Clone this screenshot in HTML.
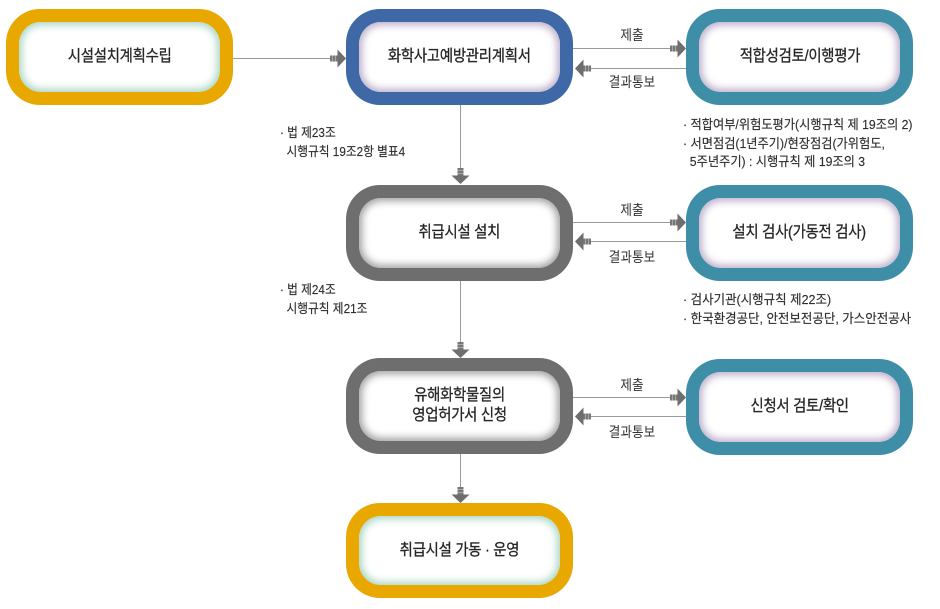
<!DOCTYPE html>
<html><head><meta charset="utf-8">
<style>
html,body{margin:0;padding:0;background:#fff;}
body{width:940px;height:609px;position:relative;overflow:hidden;font-family:"Liberation Sans","Noto Sans CJK KR",sans-serif;color:#333;}
.node{position:absolute;border-radius:34px;}
.node .in{position:absolute;left:13px;top:13px;right:13px;bottom:13px;background:#fff;border-radius:22px;display:flex;align-items:center;justify-content:center;text-align:center;}
.node .t{display:inline-block;font-size:16px;line-height:20px;transform:scaleX(0.9);white-space:nowrap;color:#262626;letter-spacing:-0.3px;-webkit-text-stroke:0.3px #262626;}
.y{background:#E8A800;}
.y .in{box-shadow:inset 0 0 8px 3px #a9d6c4;}
.b{background:#3E69A6;}
.b .in{box-shadow:inset 0 0 8px 3px #bcaecb;}
.g{background:#6E6E6E;}
.g .in{box-shadow:inset 0 0 8px 3px #a0a0a0;}
.c{background:#3F8EA7;}
.c .in{box-shadow:inset 0 0 8px 3px #bcaecb;}
.note{position:absolute;font-size:13px;line-height:18.5px;white-space:nowrap;transform-origin:0 0;color:#2e2e2e;-webkit-text-stroke:0.15px #2e2e2e;}
.lab{position:absolute;width:80px;text-align:center;font-size:14px;line-height:16px;white-space:nowrap;color:#333;transform:scaleX(0.9);}
svg{position:absolute;left:0;top:0;}
</style></head><body>
<svg width="940" height="609" viewBox="0 0 940 609">
<defs>
<g id="ah">
<rect x="-16" y="-3" width="8" height="6" fill="#777"/>
<line x1="-13.5" y1="-3" x2="-13.5" y2="3" stroke="#bbb" stroke-width="0.7"/>
<line x1="-10.5" y1="-3" x2="-10.5" y2="3" stroke="#bbb" stroke-width="0.7"/>
<polygon points="-8.5,-9 0,0 -8.5,9" fill="#6e6e6e"/>
</g>
</defs>
<g stroke="#9a9a9a" stroke-width="1" fill="none">
<line x1="233" y1="58.5" x2="331" y2="58.5"/>
<line x1="460.5" y1="105" x2="460.5" y2="168"/>
<line x1="460.5" y1="280" x2="460.5" y2="342"/>
<line x1="460.5" y1="454" x2="460.5" y2="487"/>
<line x1="573" y1="48.5" x2="671" y2="48.5"/>
<line x1="589" y1="68.5" x2="686" y2="68.5"/>
<line x1="573" y1="222.5" x2="671" y2="222.5"/>
<line x1="589" y1="241.5" x2="686" y2="241.5"/>
<line x1="573" y1="397.5" x2="671" y2="397.5"/>
<line x1="589" y1="416.5" x2="686" y2="416.5"/>
</g>
<use href="#ah" transform="translate(346,58.5)"/>
<use href="#ah" transform="translate(460.5,184) rotate(90)"/>
<use href="#ah" transform="translate(460.5,358) rotate(90)"/>
<use href="#ah" transform="translate(460.5,503) rotate(90)"/>
<use href="#ah" transform="translate(686,48.5)"/>
<use href="#ah" transform="translate(575,68.5) rotate(180)"/>
<use href="#ah" transform="translate(686,222.5)"/>
<use href="#ah" transform="translate(575,241.5) rotate(180)"/>
<use href="#ah" transform="translate(686,397.5)"/>
<use href="#ah" transform="translate(575,416.5) rotate(180)"/>
</svg>

<div class="node y" style="left:6px;top:9px;width:227px;height:96px;"><div class="in"><span class="t">시설설치계획수립</span></div></div>
<div class="node b" style="left:346px;top:9px;width:227px;height:96px;"><div class="in"><span class="t">화학사고예방관리계획서</span></div></div>
<div class="node c" style="left:686px;top:9px;width:227px;height:96px;"><div class="in"><span class="t">적합성검토/이행평가</span></div></div>

<div class="node g" style="left:346px;top:185px;width:227px;height:96px;"><div class="in"><span class="t">취급시설 설치</span></div></div>
<div class="node c" style="left:686px;top:185px;width:227px;height:96px;"><div class="in"><span class="t">설치 검사(가동전 검사)</span></div></div>

<div class="node g" style="left:346px;top:358px;width:227px;height:96px;"><div class="in"><span class="t">유해화학물질의<br>영업허가서 신청</span></div></div>
<div class="node c" style="left:686px;top:359px;width:227px;height:96px;"><div class="in"><span class="t">신청서 검토/확인</span></div></div>

<div class="node y" style="left:346px;top:503px;width:227px;height:95px;"><div class="in"><span class="t">취급시설 가동 · 운영</span></div></div>

<div class="lab" style="left:592px;top:27px;">제출</div>
<div class="lab" style="left:592px;top:74px;">결과통보</div>
<div class="lab" style="left:592px;top:202px;">제출</div>
<div class="lab" style="left:592px;top:249px;">결과통보</div>
<div class="lab" style="left:592px;top:377px;">제출</div>
<div class="lab" style="left:592px;top:424px;">결과통보</div>

<div class="note" style="left:280px;top:124px;transform:scaleX(0.9);">· 법 제23조<br>&nbsp;&nbsp;시행규칙 19조2항 별표4</div>
<div class="note" style="left:280px;top:281px;transform:scaleX(0.9);">· 법 제24조<br>&nbsp;&nbsp;시행규칙 제21조</div>
<div class="note" style="left:683px;top:116px;transform:scaleX(0.94);">· 적합여부/위험도평가(시행규칙 제 19조의 2)<br>· 서면점검(1년주기)/현장점검(가위험도,<br>&nbsp;&nbsp;5주년주기) : 시행규칙 제 19조의 3</div>
<div class="note" style="left:683px;top:291px;transform:scaleX(0.96);">· 검사기관(시행규칙 제22조)<br>· 한국환경공단, 안전보전공단, 가스안전공사</div>
</body></html>
